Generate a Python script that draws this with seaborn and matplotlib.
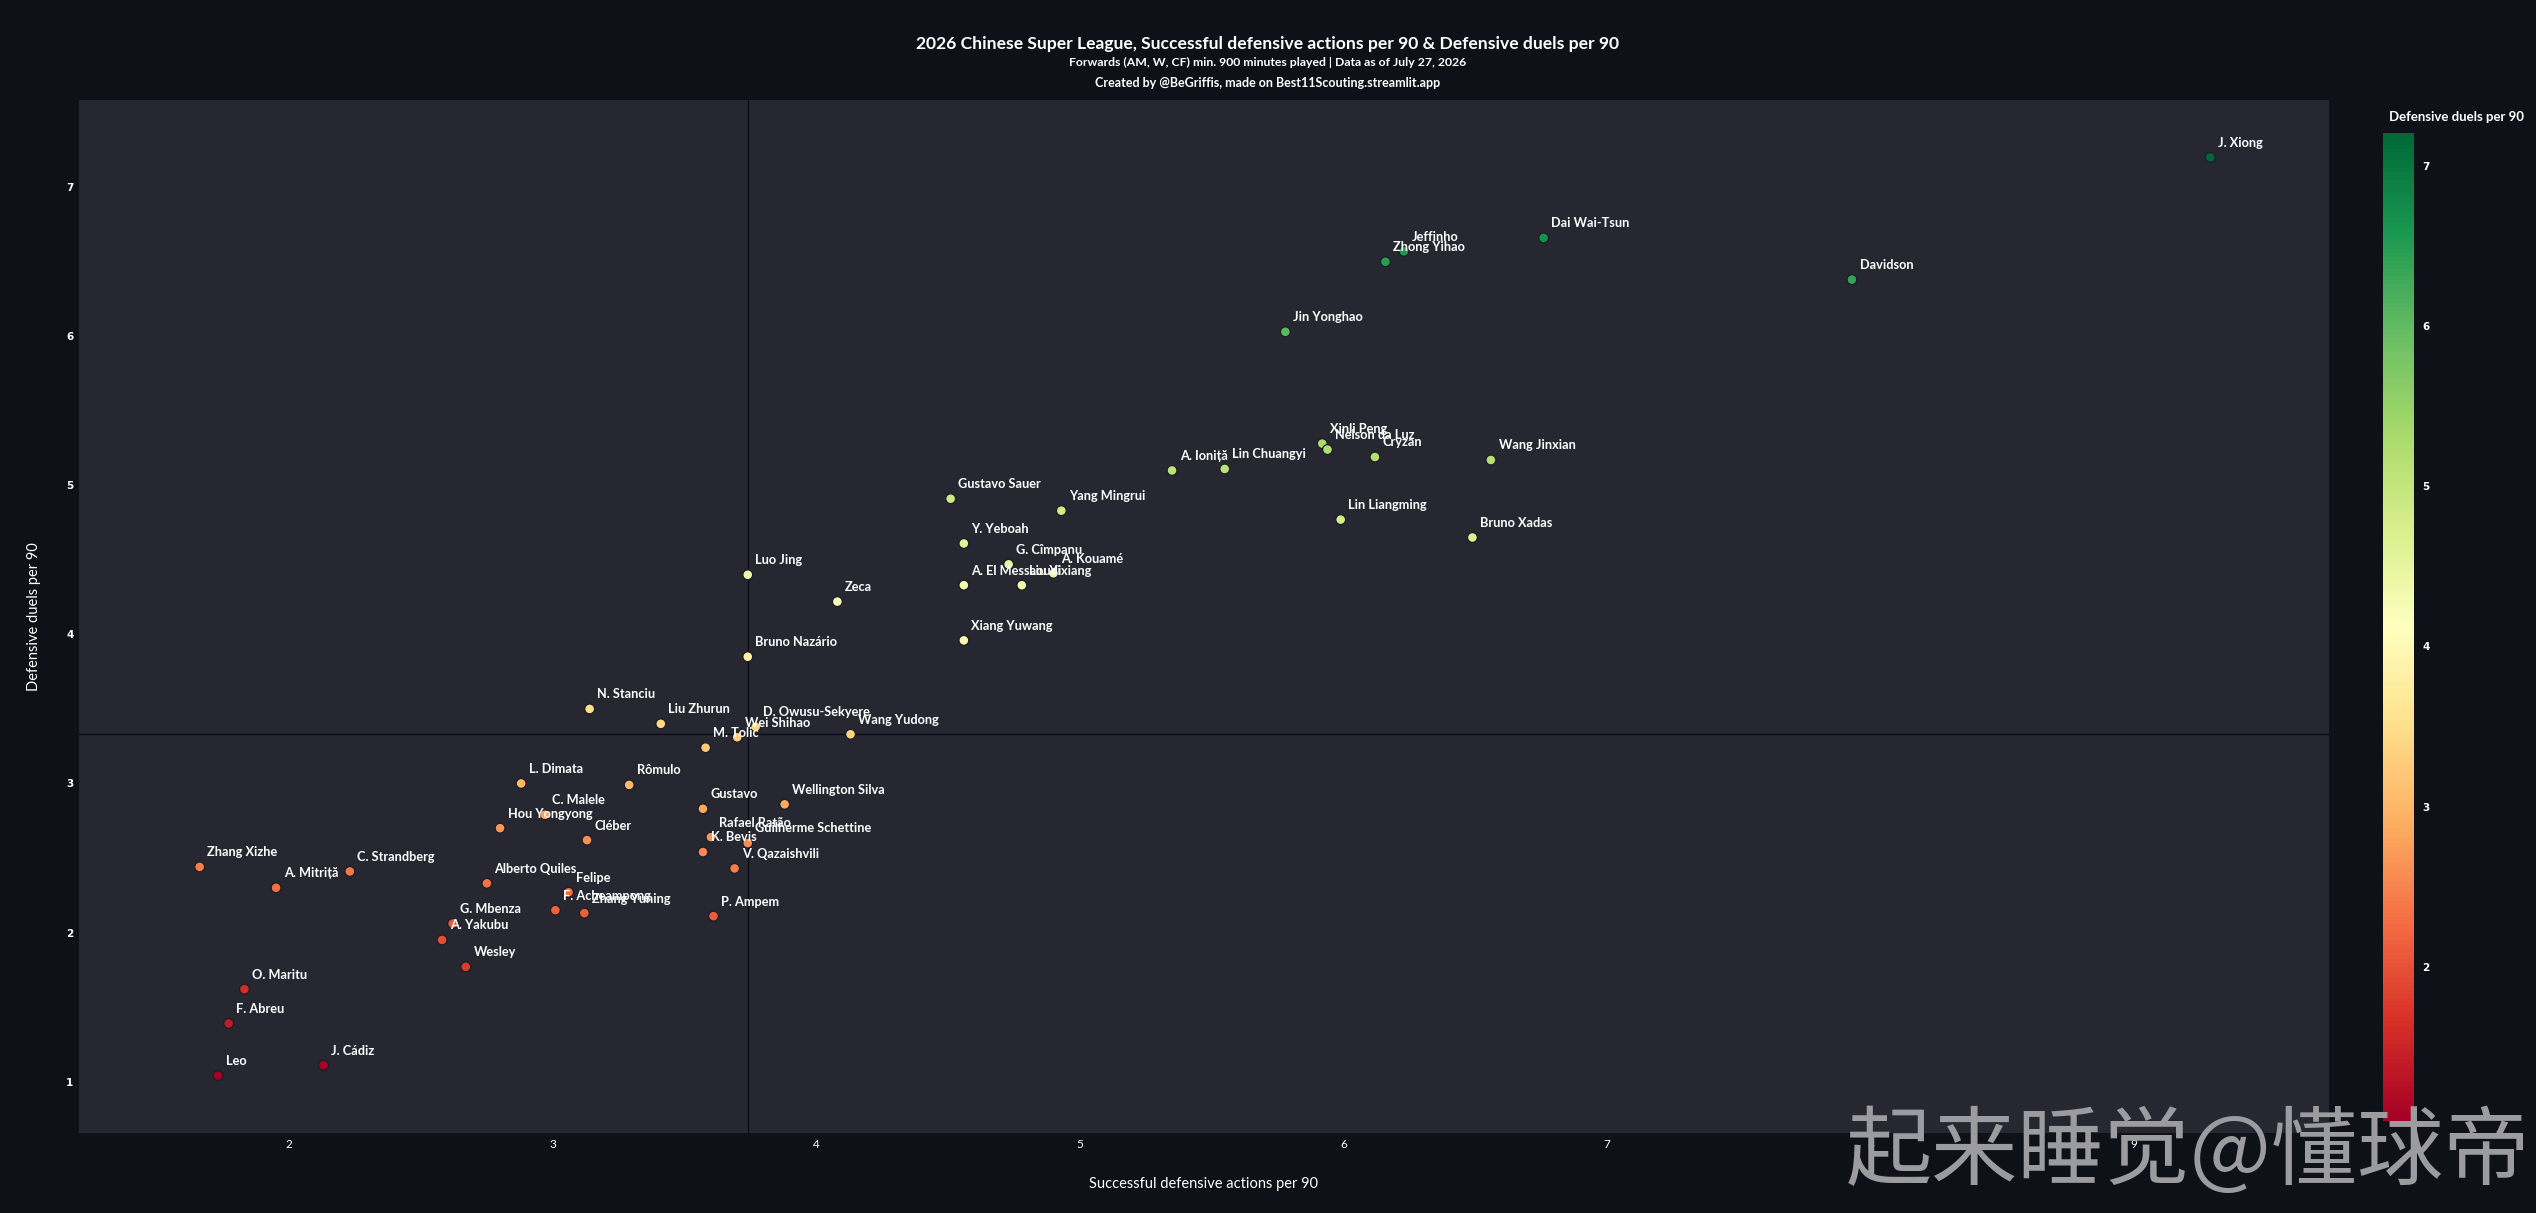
import numpy as np
import pandas as pd
import matplotlib
matplotlib.use("Agg")
import matplotlib.pyplot as plt
import seaborn as sns
from matplotlib.colors import Normalize
from matplotlib.cm import ScalarMappable

# ---------------- data ----------------
players = [
    "J. Xiong", "Dai Wai-Tsun", "Jeffinho", "Zhong Yihao", "Davidson", "Jin Yonghao",
    "Xinli Peng", "Nelson da Luz", "Cryzan", "Wang Jinxian", "A. Ioniță", "Lin Chuangyi",
    "Gustavo Sauer", "Yang Mingrui", "Lin Liangming", "Bruno Xadas", "Y. Yeboah",
    "G. Cîmpanu", "A. Kouamé", "A. El Messaoudi", "Liu Yixiang", "Luo Jing", "Zeca",
    "Xiang Yuwang", "Bruno Nazário", "N. Stanciu", "Liu Zhurun", "D. Owusu-Sekyere",
    "Wei Shihao", "Wang Yudong", "M. Tolic", "L. Dimata", "Rômulo", "Gustavo",
    "Wellington Silva", "C. Malele", "Hou Yongyong", "Cléber", "Rafael Ratão",
    "Guilherme Schettine", "K. Bevis", "V. Qazaishvili", "Zhang Xizhe", "A. Mitriță",
    "C. Strandberg", "Alberto Quiles", "Felipe", "F. Acheampong", "Zhang Yuning",
    "G. Mbenza", "A. Yakubu", "P. Ampem", "Wesley", "O. Maritu", "F. Abreu",
    "J. Cádiz", "Leo",
]
def_actions = [
    9.29, 6.76, 6.23, 6.16, 7.93, 5.78,
    5.92, 5.94, 6.12, 6.56, 5.35, 5.55,
    4.51, 4.93, 5.99, 6.49, 4.56,
    4.73, 4.90, 4.56, 4.78, 3.74, 4.08,
    4.56, 3.74, 3.14, 3.41, 3.77,
    3.70, 4.13, 3.58, 2.88, 3.29, 3.57,
    3.88, 2.97, 2.80, 3.13, 3.60,
    3.74, 3.57, 3.69, 1.66, 1.95,
    2.23, 2.75, 3.06, 3.01, 3.12,
    2.62, 2.58, 3.61, 2.67, 1.83, 1.77,
    2.13, 1.73,
]
def_duels = [
    7.20, 6.66, 6.57, 6.50, 6.38, 6.03,
    5.28, 5.24, 5.19, 5.17, 5.10, 5.11,
    4.91, 4.83, 4.77, 4.65, 4.61,
    4.47, 4.41, 4.33, 4.33, 4.40, 4.22,
    3.96, 3.85, 3.50, 3.40, 3.38,
    3.31, 3.33, 3.24, 3.00, 2.99, 2.83,
    2.86, 2.79, 2.70, 2.62, 2.64,
    2.60, 2.54, 2.43, 2.44, 2.30,
    2.41, 2.33, 2.27, 2.15, 2.13,
    2.06, 1.95, 2.11, 1.77, 1.62, 1.39,
    1.11, 1.04,
]
x_ticks = [2, 3, 4, 5, 6, 7, 8, 9]
y_ticks = [1, 2, 3, 4, 5, 6, 7]
cbar_ticks = [2, 3, 4, 5, 6, 7]

x_label = "Successful defensive actions per 90"
y_label = "Defensive duels per 90"
cbar_label = "Defensive duels per 90"
title = "2026 Chinese Super League, Successful defensive actions per 90 & Defensive duels per 90"
subtitle = "Forwards (AM, W, CF) min. 900 minutes played | Data as of July 27, 2026"
credit = "Created by @BeGriffis, made on Best11Scouting.streamlit.app"
watermark = "起来睡觉@懂球帝"

df = pd.DataFrame({"player": players, "x": def_actions, "y": def_duels})

# ---------------- style ----------------
FIG_BG = "#0e1117"
AX_BG = "#262730"
sns.set_theme(style="dark")
plt.rcParams["font.family"] = ["Lato", "DejaVu Sans"]
LBL = ["Lato", "DejaVu Sans"]

fig = plt.figure(figsize=(25.36, 12.13), dpi=100, facecolor=FIG_BG)
ax = fig.add_axes([0.03115, 0.06595, 0.8872, 0.8516])
ax.set_facecolor(AX_BG)
for s in ax.spines.values():
    s.set_visible(False)
ax.grid(False)

norm = Normalize(vmin=df["y"].min(), vmax=df["y"].max())
cmap = plt.get_cmap("RdYlGn")

sns.scatterplot(data=df, x="x", y="y", hue="y", palette="RdYlGn", hue_norm=norm,
                s=50, edgecolor="#1b1d24", linewidth=0.9, legend=False, ax=ax, zorder=3)

# median reference lines
ax.axvline(np.median(df["x"]), color="#0b0d12", lw=1.0, zorder=1)
ax.axhline(np.median(df["y"]), color="#0b0d12", lw=1.0, zorder=1)

for _, r in df.iterrows():
    ax.annotate(r["player"], (r["x"], r["y"]), xytext=(5.5, 10.5), textcoords="offset points",
                ha="left", va="center", fontsize=9.2, color="white", fontweight="bold",
                family=LBL, zorder=4)

xr = df["x"].max() - df["x"].min()
yr = df["y"].max() - df["y"].min()
ax.set_xlim(df["x"].min() - 0.06 * xr, df["x"].max() + 0.059 * xr)
ax.set_ylim(df["y"].min() - 0.0625 * yr, df["y"].max() + 0.0625 * yr)

ax.set_xticks(x_ticks)
ax.set_yticks(y_ticks)
ax.set_xticklabels([str(t) for t in x_ticks], color="white", fontsize=8.5)
ax.set_yticklabels([str(t) for t in y_ticks], color="white", fontsize=7.5,
                   fontweight="bold", family="DejaVu Sans")
ax.tick_params(axis="both", length=0, pad=4)
ax.set_xlabel(x_label, color="white", fontsize=10.5, labelpad=20)
ax.set_ylabel(y_label, color="white", fontsize=10.5, labelpad=18)

# colorbar
cax = fig.add_axes([0.9397, 0.07585, 0.01222, 0.8141])
sm = ScalarMappable(norm=norm, cmap=cmap)
cb = fig.colorbar(sm, cax=cax)
cb.outline.set_visible(False)
cb.set_ticks(cbar_ticks)
cb.ax.tick_params(length=0, colors="white", labelsize=7.5, pad=6)
for t in cb.ax.get_yticklabels():
    t.set_fontweight("bold")
    t.set_family("DejaVu Sans")
fig.text(0.9686, 0.9035, cbar_label, color="white", fontsize=9.5, fontweight="bold",
         ha="center", va="center", family=LBL)

# titles
fig.text(0.5, 1 - 44 / 1213, title, color="white", fontsize=12.6, fontweight="bold",
         ha="center", va="center", family=LBL)
fig.text(0.5, 1 - 62 / 1213, subtitle, color="white", fontsize=8.8, fontweight="bold",
         ha="center", va="center", family=LBL)
fig.text(0.5, 1 - 83 / 1213, credit, color="white", fontsize=9, fontweight="bold",
         ha="center", va="center", family=LBL)

# watermark
fig.text(0.728, 1 - 1154 / 1213, watermark, color="#9c9ca0", fontsize=62,
         ha="left", va="center", family=["Noto Sans CJK SC", "DejaVu Sans"], zorder=10)

fig.savefig("out.png", dpi=100, facecolor=FIG_BG)
